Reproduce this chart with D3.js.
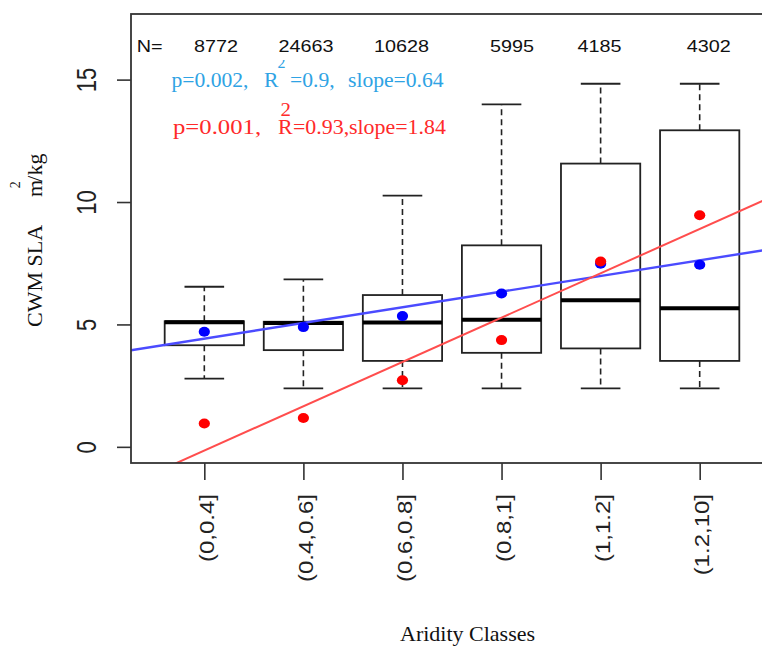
<!DOCTYPE html>
<html>
<head>
<meta charset="utf-8">
<script src="https://cdn.jsdelivr.net/npm/d3@7"></script>
<style>
    body { margin: 0; background: #fff; }
    svg { display: block; }
</style>
</head>
<body>
<div id="viz"></div>
<script>
// values
const classes = ['(0,0.4]', '(0.4,0.6]', '(0.6,0.8]', '(0.8,1]', '(1,1.2]', '(1.2,10]']
const counts = [8772, 24663, 10628, 5995, 4185, 4302]
const whiskerLow = [2.79, 2.39, 2.39, 2.39, 2.39, 2.39]
const q1 = [4.15, 3.95, 3.51, 3.84, 4.02, 3.51]
const median = [5.09, 5.06, 5.08, 5.19, 5.99, 5.66]
const q3 = [5.13, 5.11, 6.20, 8.23, 11.57, 12.93]
const whiskerHigh = [6.54, 6.84, 10.26, 13.99, 14.83, 14.83]
const blueMeans = [4.70, 4.89, 5.34, 6.26, 7.48, 7.44]
const redMeans = [0.95, 1.18, 2.72, 4.36, 7.57, 9.46]
const yTicks = [0, 5, 10, 15]
const blueStats = ['p=0.002,', 'R', '=0.9,', 'slope=0.64']
const redStats = ['p=0.001,', 'R', '=0.93,', 'slope=1.84']

const w = 762, h = 648
const sans = '"Liberation Sans", Arial, sans-serif'
const serif = '"Liberation Serif", "Times New Roman", serif'
const blueTxt = '#2fa3e4', redTxt = '#ff2a2a'

const svg = d3.select('#viz')
    .append('svg')
    .attr('width', w)
    .attr('height', h)

const plot = { left: 131, right: 773, top: 14, bottom: 463 }

const x = d3.scaleLinear()
    .domain([0.26, 6.74])
    .range([plot.left, plot.right])
const y = d3.scaleLinear()
    .domain([-0.66, 17.68])
    .range([plot.bottom, plot.top])

const pos = i => x(i + 1)
const boxW = x(0.8) - x(0)

svg.append('clipPath')
    .attr('id', 'plot-clip')
    .append('rect')
    .attr('x', plot.left)
    .attr('y', plot.top)
    .attr('width', plot.right - plot.left)
    .attr('height', plot.bottom - plot.top)

// axes
const yAxisG = svg.append('g')
    .attr('transform', `translate(${plot.left},0)`)
    .call(d3.axisLeft(y).tickValues(yTicks).tickSize(14))
yAxisG.select('.domain').remove()
yAxisG.selectAll('line')
    .attr('stroke', '#333')
    .attr('stroke-width', 1.6)
yAxisG.selectAll('text')
    .attr('x', 0)
    .attr('dy', 0)
    .attr('transform', 'translate(-35,0) scale(1.25,1) rotate(-90)')
    .attr('text-anchor', 'middle')
    .attr('fill', '#222')
    .style('font-family', sans)
    .style('font-size', '22px')

const xAxisG = svg.append('g')
    .attr('transform', `translate(0,${plot.bottom})`)
    .call(d3.axisBottom(x)
        .tickValues(d3.range(1, classes.length + 1))
        .tickFormat(d => classes[d - 1])
        .tickSize(17))
xAxisG.select('.domain').remove()
xAxisG.selectAll('line')
    .attr('stroke', '#333')
    .attr('stroke-width', 1.6)
xAxisG.selectAll('text')
    .attr('y', 0)
    .attr('dy', 0)
    .attr('transform', 'translate(9,31) scale(0.85,1) rotate(-90)')
    .attr('text-anchor', 'end')
    .attr('fill', '#222')
    .style('font-family', sans)
    .style('font-size', '24px')

// boxes
const boxes = svg.append('g')
    .selectAll('g')
    .data(classes)
    .join('g')

boxes.append('line')
    .attr('x1', (d, i) => pos(i)).attr('x2', (d, i) => pos(i))
    .attr('y1', (d, i) => y(q3[i])).attr('y2', (d, i) => y(whiskerHigh[i]))
    .attr('stroke', '#222').attr('stroke-width', 1.6)
    .attr('stroke-dasharray', '6,4')
boxes.append('line')
    .attr('x1', (d, i) => pos(i)).attr('x2', (d, i) => pos(i))
    .attr('y1', (d, i) => y(q1[i])).attr('y2', (d, i) => y(whiskerLow[i]))
    .attr('stroke', '#222').attr('stroke-width', 1.6)
    .attr('stroke-dasharray', '6,4')

const caps = [whiskerHigh, whiskerLow]
caps.forEach(arr => {
    boxes.append('line')
        .attr('x1', (d, i) => pos(i) - boxW / 4).attr('x2', (d, i) => pos(i) + boxW / 4)
        .attr('y1', (d, i) => y(arr[i])).attr('y2', (d, i) => y(arr[i]))
        .attr('stroke', '#222').attr('stroke-width', 1.8)
})

boxes.append('rect')
    .attr('x', (d, i) => pos(i) - boxW / 2)
    .attr('width', boxW)
    .attr('y', (d, i) => y(q3[i]))
    .attr('height', (d, i) => y(q1[i]) - y(q3[i]))
    .attr('fill', 'none')
    .attr('stroke', '#222')
    .attr('stroke-width', 1.8)

boxes.append('line')
    .attr('x1', (d, i) => pos(i) - boxW / 2).attr('x2', (d, i) => pos(i) + boxW / 2)
    .attr('y1', (d, i) => y(median[i])).attr('y2', (d, i) => y(median[i]))
    .attr('stroke', '#000').attr('stroke-width', 4)

// least squares line through the class means
const fit = vals => {
    const xs = vals.map((v, i) => i + 1)
    const mx = d3.mean(xs), my = d3.mean(vals)
    const slope = d3.sum(xs, (xv, i) => (xv - mx) * (vals[i] - my)) / d3.sum(xs, xv => (xv - mx) ** 2)
    return { slope, intercept: my - slope * mx }
}

const lines = svg.append('g').attr('clip-path', 'url(#plot-clip)')
const drawFit = (vals, color, width) => {
    const f = fit(vals)
    const [a, b] = x.domain()
    lines.append('line')
        .attr('x1', x(a)).attr('y1', y(f.intercept + f.slope * a))
        .attr('x2', x(b)).attr('y2', y(f.intercept + f.slope * b))
        .attr('stroke', color)
        .attr('stroke-width', width)
}
drawFit(blueMeans, '#4b4bff', 2.4)
drawFit(redMeans, '#ff4d4d', 2)

// means
const dots = svg.append('g')
dots.selectAll('.blue')
    .data(blueMeans)
    .join('ellipse')
    .attr('cx', (d, i) => pos(i)).attr('cy', d => y(d))
    .attr('rx', 5.6).attr('ry', 5)
    .attr('fill', '#0000ff')
dots.selectAll('.red')
    .data(redMeans)
    .join('ellipse')
    .attr('cx', (d, i) => pos(i)).attr('cy', d => y(d))
    .attr('rx', 5.6).attr('ry', 5)
    .attr('fill', '#ff0000')

// plot frame
svg.append('rect')
    .attr('x', plot.left).attr('y', plot.top)
    .attr('width', plot.right - plot.left)
    .attr('height', plot.bottom - plot.top)
    .attr('fill', 'none')
    .attr('stroke', '#333')
    .attr('stroke-width', 1.8)

// N row
const nX = [216, 306, 401.5, 512, 599.5, 708.7]
svg.append('text')
    .attr('transform', 'translate(136.7,51.7) scale(1.2,1)')
    .style('font-family', sans).style('font-size', '16.5px')
    .attr('fill', '#111')
    .text('N=')
svg.append('g')
    .selectAll('text')
    .data(counts)
    .join('text')
    .attr('transform', (d, i) => `translate(${nX[i]},51.7) scale(1.2,1)`)
    .attr('text-anchor', 'middle')
    .style('font-family', sans).style('font-size', '16.5px')
    .attr('fill', '#111')
    .text(d => d)

// stats annotations
const note = (parent, str, x0, y0, size, sx, color) => parent.append('text')
    .attr('transform', `translate(${x0},${y0}) scale(${sx},1)`)
    .style('font-family', serif)
    .style('font-size', size + 'px')
    .attr('fill', color)
    .text(str)

const blueX = [171.5, 264, 290, 348]
blueStats.forEach((s, i) => note(svg, s, blueX[i], 86.7, 21, 1.03, blueTxt))
// the blue superscript is cut off at its top in the original
svg.append('clipPath').attr('id', 'sup-clip')
    .append('rect').attr('x', 260).attr('y', 60).attr('width', 40).attr('height', 20)
const supG = svg.append('g').attr('clip-path', 'url(#sup-clip)')
note(supG, '2', 277.5, 68.3, 16, 1, blueTxt)

const redX = [173, 278, 293, 349], redSx = [1.15, 1.02, 1.02, 1.02]
redStats.forEach((s, i) => note(svg, s, redX[i], 134, 21.5, redSx[i], redTxt))
note(svg, '2', 280.5, 116, 19, 1.1, redTxt)

// axis titles
const rotText = (str, tx, ty, size) => svg.append('text')
    .attr('transform', `translate(${tx},${ty}) rotate(-90)`)
    .style('font-family', serif)
    .style('font-size', size + 'px')
    .attr('fill', '#111')
    .text(str)
rotText('CWM SLA', 42, 327, 22)
rotText('m', 42, 197, 22)
rotText('2', 20, 188.3, 14)
rotText('/kg', 42, 181.7, 22)

svg.append('text')
    .attr('x', 400).attr('y', 641)
    .style('font-family', serif)
    .style('font-size', '22px')
    .attr('fill', '#111')
    .text('Aridity Classes')
</script>
</body>
</html>
